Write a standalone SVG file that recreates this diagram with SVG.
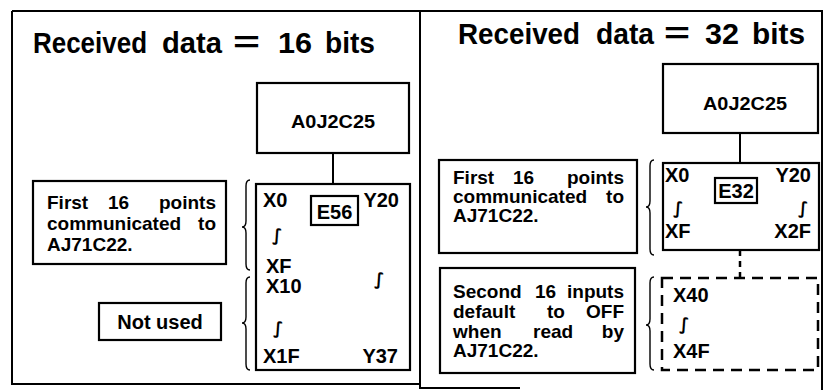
<svg xmlns="http://www.w3.org/2000/svg" width="825" height="390" viewBox="0 0 825 390">
<style>
.frame{fill:none;stroke:#000;stroke-width:2}
.box{fill:#fff;stroke:#000;stroke-width:2.2}
.dbox{fill:none;stroke:#000;stroke-width:2.5;stroke-dasharray:11 7}
.line{fill:none;stroke:#000;stroke-width:2}
.dline{fill:none;stroke:#000;stroke-width:2.5;stroke-dasharray:6 5}
.brace{fill:none;stroke:#000;stroke-width:1.4}
text{font-family:"Liberation Sans",Arial,sans-serif;font-weight:bold;fill:#000}
.title{font-size:29px}
.t19{font-size:19px}
.t20{font-size:20px}
.sq{font-family:"DejaVu Sans",sans-serif;font-weight:bold;font-size:17px}
</style>
<rect x="0" y="0" width="825" height="390" fill="#fff"/>
<g id="frame">
<path class="frame" d="M12 11 H822 V390 M12 11 V384 H420 M420 11 V388 H520"/>
</g>
<g id="title16">
<text class="title" x="33" y="53" textLength="114" lengthAdjust="spacingAndGlyphs">Received</text>
<text class="title" x="162" y="53" textLength="60" lengthAdjust="spacingAndGlyphs">data</text>
<text class="title" x="233" y="52" textLength="27" lengthAdjust="spacingAndGlyphs">=</text>
<text class="title" x="278" y="53" textLength="34" lengthAdjust="spacingAndGlyphs">16</text>
<text class="title" x="325" y="53" textLength="50" lengthAdjust="spacingAndGlyphs">bits</text>
</g>
<g id="title32">
<text class="title" x="458" y="44" textLength="122" lengthAdjust="spacingAndGlyphs">Received</text>
<text class="title" x="596" y="44" textLength="58" lengthAdjust="spacingAndGlyphs">data</text>
<text class="title" x="664" y="43" textLength="26" lengthAdjust="spacingAndGlyphs">=</text>
<text class="title" x="705" y="44" textLength="34" lengthAdjust="spacingAndGlyphs">32</text>
<text class="title" x="752" y="44" textLength="53" lengthAdjust="spacingAndGlyphs">bits</text>
</g>
<g id="connectors">
<line class="line" x1="333" y1="153" x2="333" y2="184"/>
<line class="line" x1="740" y1="133" x2="740" y2="163"/>
<line class="dline" x1="740" y1="250" x2="740" y2="278"/>
<path class="brace" d="M250 180 Q246 180 246 186 L246 221 Q246 227 242 227 Q246 227 246 233 L246 264 Q246 270 250 270"/>
<path class="brace" d="M250 277 Q246 277 246 283 L246 317 Q246 323 242 323 Q246 323 246 329 L246 364 Q246 370 250 370"/>
<path class="brace" d="M654 160 Q650 160 650 166 L650 201 Q650 207 646 207 Q650 207 650 213 L650 249 Q650 255 654 255"/>
<path class="brace" d="M654 277 Q650 277 650 283 L650 319 Q650 325 646 325 Q650 325 650 331 L650 364 Q650 370 654 370"/>
</g>
<g id="cpu16">
<rect class="box" x="257" y="83" width="152" height="70"/>
<text class="t19" x="333" y="128" text-anchor="middle" textLength="84" lengthAdjust="spacingAndGlyphs">A0J2C25</text>
</g>
<g id="cpu32">
<rect class="box" x="663" y="64" width="155" height="69"/>
<text class="t19" x="745" y="110" text-anchor="middle" textLength="84" lengthAdjust="spacingAndGlyphs">A0J2C25</text>
</g>
<g id="unit16">
<rect class="box" x="256" y="184" width="154" height="186"/>
<rect class="box" x="311" y="196" width="47" height="29"/>
<text class="t20" x="334.5" y="219" text-anchor="middle">E56</text>
<text class="t20" x="263" y="207">X0</text>
<text class="t20" x="399" y="207" text-anchor="end">Y20</text>
<text class="sq" x="272" y="241">∫</text>
<text class="t20" x="266" y="273">XF</text>
<text class="sq" x="374" y="285">∫</text>
<text class="t20" x="266" y="293">X10</text>
<text class="sq" x="273" y="334">∫</text>
<text class="t20" x="263" y="363">X1F</text>
<text class="t20" x="398" y="363" text-anchor="end">Y37</text>
</g>
<g id="note16a">
<rect class="box" x="33" y="181" width="193" height="83"/>
<text class="t19" x="47" y="209">First</text>
<text class="t19" x="108" y="209">16</text>
<text class="t19" x="216" y="209" text-anchor="end">points</text>
<text class="t19" x="47" y="230">communicated</text>
<text class="t19" x="216" y="230" text-anchor="end">to</text>
<text class="t19" x="47" y="251">AJ71C22.</text>
</g>
<g id="note16b">
<rect class="box" x="99" y="303" width="122" height="37"/>
<text class="t20" x="160" y="329" text-anchor="middle">Not used</text>
</g>
<g id="unit32">
<rect class="box" x="663" y="163" width="156" height="87"/>
<rect class="box" x="715" y="178" width="42" height="25"/>
<text class="t20" x="736" y="198" text-anchor="middle">E32</text>
<text class="t20" x="665" y="182">X0</text>
<text class="t20" x="811" y="182" text-anchor="end">Y20</text>
<text class="sq" x="673" y="214">∫</text>
<text class="sq" x="798" y="214">∫</text>
<text class="t20" x="665" y="238">XF</text>
<text class="t20" x="811" y="238" text-anchor="end">X2F</text>
</g>
<g id="ext32">
<rect class="dbox" x="662" y="278" width="156" height="92"/>
<text class="t20" x="673" y="302">X40</text>
<text class="sq" x="679" y="330">∫</text>
<text class="t20" x="673" y="358">X4F</text>
</g>
<g id="note32a">
<rect class="box" x="439" y="160" width="198" height="93"/>
<text class="t19" x="453" y="184">First</text>
<text class="t19" x="513" y="184">16</text>
<text class="t19" x="624" y="184" text-anchor="end">points</text>
<text class="t19" x="453" y="203">communicated</text>
<text class="t19" x="624" y="203" text-anchor="end">to</text>
<text class="t19" x="453" y="222">AJ71C22.</text>
</g>
<g id="note32b">
<rect class="box" x="440" y="268" width="195" height="105"/>
<text class="t19" x="453" y="298">Second</text>
<text class="t19" x="535" y="298">16</text>
<text class="t19" x="624" y="298" text-anchor="end">inputs</text>
<text class="t19" x="453" y="318">default</text>
<text class="t19" x="547" y="318">to</text>
<text class="t19" x="624" y="318" text-anchor="end">OFF</text>
<text class="t19" x="453" y="338">when</text>
<text class="t19" x="533" y="338">read</text>
<text class="t19" x="624" y="338" text-anchor="end">by</text>
<text class="t19" x="453" y="357">AJ71C22.</text>
</g>
</svg>
